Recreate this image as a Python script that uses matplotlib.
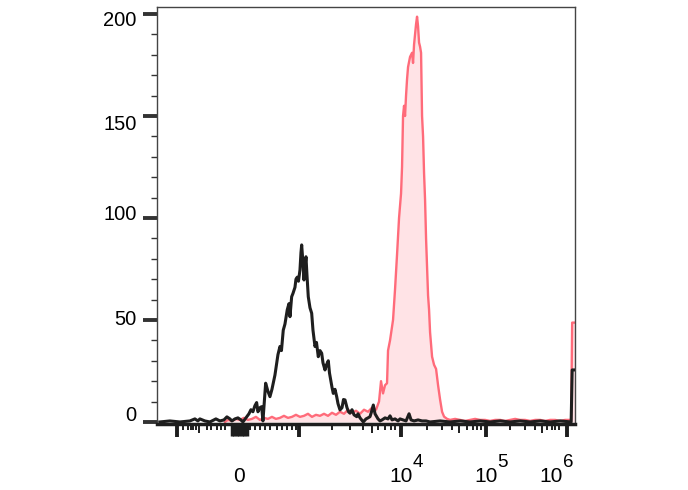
import numpy as np
import matplotlib
matplotlib.use("Agg")
import matplotlib.pyplot as plt
import matplotlib.transforms as mtransforms

plt.rcParams['font.family'] = ['Liberation Sans', 'DejaVu Sans']

# display channel (biexponential scale, 0..418) vs. cell count
stained_x = [68, 71, 75, 79, 83, 87, 91, 95, 99, 103, 107, 111, 115, 119, 123, 127, 131, 135,
             139, 143, 147, 151, 155, 159, 163, 167, 171, 175, 179, 183, 187, 191, 195, 199,
             203, 207, 211, 215, 219, 222, 224, 226, 228, 230, 231, 233, 236, 238, 240, 242,
             244, 245, 246, 247, 248, 249, 250, 251, 253, 255, 256, 257, 258, 259, 260, 261,
             262, 263, 264, 265, 266, 267, 268, 269, 270, 271, 272, 273, 274, 275, 277, 279,
             280, 281, 283, 285, 287, 290, 293, 298, 303, 308, 313, 318, 323, 328, 333, 338,
             343, 348, 353, 358, 363, 368, 373, 378, 383, 388, 393, 398, 403, 408, 414, 415, 418]
stained_y = [0, 1, 0.5, 1.5, 1, 2, 1, 1.5, 2.5, 1, 2, 1.5, 2.5, 1.5, 2, 3, 2, 2.5,
             3.5, 2.5, 3, 4, 2.5, 3.5, 3, 4, 3, 4.5, 3.5, 5, 4, 6, 4.5, 5.5,
             4, 6, 5, 7, 6, 10, 20, 14, 18, 19, 35, 40, 50, 65, 82, 100,
             112, 125, 150, 155, 150, 160, 168, 174, 179, 181, 176, 185, 190, 195, 198.7, 194,
             186, 184, 181, 150, 140, 122, 109, 90, 76, 62, 55, 44, 38, 32, 28, 26,
             22, 18, 11, 5, 2.6, 1.5, 1, 1.5, 1, 0.5, 1, 1.5, 1, 1, 0.5, 1,
             1, 0.5, 1, 1.5, 1, 1, 0.5, 1, 1, 0.5, 1, 1, 0.5, 1, 1, 48.7, 48.7]

control_x = [3, 13, 23, 33, 38, 41, 43, 48, 53, 59, 63, 67, 70, 73, 75, 78, 81, 84, 86, 89,
             92, 94, 96, 98, 99.7, 101, 103, 104.7, 106, 108.7, 111, 113, 115, 116.3, 118,
             119.7, 121, 123, 124.5, 126.3, 128, 130.3, 132, 133, 134.7, 136, 138, 139, 140.3,
             141.5, 143, 144, 144.7, 146, 147, 148, 149, 150, 151.3, 153, 154.7, 156, 158,
             159.5, 161.3, 163, 164.7, 166, 168, 169.5, 171.3, 172.5, 173.7, 175, 176.3, 178,
             179.7, 181, 183, 185, 186.5, 188, 190, 191.5, 193, 195, 197, 199.7, 201, 203,
             206.3, 209, 211, 213, 214.5, 216.3, 218, 219.7, 221, 223, 225, 228, 231, 233,
             235, 238, 241, 243, 246, 249, 252, 254, 257, 261, 265, 269, 273, 283, 293, 303,
             313, 323, 333, 343, 353, 363, 373, 383, 393, 403, 414, 415, 418]
control_y = [0, 0.5, 0, 0.5, 1.5, 0.5, 1.5, 0.5, 0, 1.5, 0.5, 1, 2.5, 1.5, 0.5, 1.5, 2, 1, 0, 2,
             4, 6, 5, 8, 9.5, 5, 7, 7.5, 0.5, 19, 15, 12.4, 16, 19, 23,
             28.8, 33, 37, 35, 45, 48, 55, 58, 51.6, 61.4, 63, 66, 70, 71,
             69, 74.5, 83, 86.8, 78, 69.6, 76, 81, 72, 61.4, 56, 53.3, 45, 37,
             39, 32, 35, 33.7, 29, 25.5, 28, 30, 24, 20.6, 17, 14, 16,
             12.4, 9, 5.9, 7, 11, 10.8, 7, 5, 4.3, 6, 3.5, 2.6, 4, 2,
             0, 1.5, 2, 2.6, 5, 8.3, 4, 2.6, 1.5, 0.5, 1, 2, 1.5, 3,
             1, 1.5, 0.5, 1.5, 1, 0.5, 4, 1, 0.5, 1, 0.5, 0.5, 0, 0.5, 0, 0.5,
             0, 0.5, 0, 0.5, 0, 0.5, 0, 0.5, 0, 0.5, 0, 25.5, 25.5]

# axis ticks on the display scale
major_ticks = [20.3, 142, 244, 329, 409.7]
zero_ticks = [75, 77.5, 80, 82.5, 85, 87.5, 90]
medium_ticks = [42.3, 215.3, 302.3, 384.7]
minor_ticks = [26.3, 30.7, 33.7, 36.3, 39, 49.7, 54, 59.7, 63.7, 68, 93, 98, 103, 108, 113,
               119.7, 124.7, 129.7, 134.7, 138.7, 175.3, 193, 206.3, 221.3, 228, 233.7, 238,
               269.7, 284.7, 294.7, 310.3, 315.7, 320.3, 323.7, 353, 368, 378, 389.7, 394.7,
               398, 402.3]
zero_label_pos = 82
decade_label_pos = [244, 329, 394]
decade_exponents = ['4', '5', '6']

y_major = [0, 50, 100, 150, 200]
y_label_shift = [-6, 0, -3, 8, 6.5]   # pixel nudges of the y labels, as in the source

fig = plt.figure(figsize=(6.88, 4.90), dpi=100)
ax = fig.add_axes([0.228, 0.1347, 0.608, 0.85])

ax.fill_between(stained_x, 0, stained_y, color='#ffe3e6', linewidth=0, zorder=1)
ax.plot(stained_x, stained_y, color='#ff6b7a', linewidth=1.7, zorder=2)
ax.plot(control_x, control_y, color='#1e1e1e', linewidth=2.2, zorder=3)

ax.set_xlim(0, 418)
ax.set_ylim(-1, 203.2)

# y axis
ax.set_yticks(y_major)
ax.set_yticklabels([])
ax.set_yticks(np.arange(10, 200, 10), minor=True)
ax.tick_params(axis='y', which='major', length=10, width=2.8, color='#333333')
ax.tick_params(axis='y', which='minor', length=4.5, width=1, color='#333333')
ytrans = mtransforms.blended_transform_factory(ax.transAxes, ax.transData)
for v, s in zip(y_major, y_label_shift):
    off = mtransforms.ScaledTranslation(-20 / 100, -s / 100, fig.dpi_scale_trans)
    ax.text(0, v, str(v), transform=ytrans + off, ha='right', va='center', fontsize=14.5)

# x axis: custom biexponential ticks
ax.set_xticks([])
xtrans = mtransforms.blended_transform_factory(ax.transData, ax.transAxes)
for positions, length, width in [(major_ticks, 13, 2.8), (zero_ticks, 12, 2.5),
                                  (medium_ticks, 9, 1.4), (minor_ticks, 6, 1.4)]:
    for p in positions:
        ax.plot([p, p], [0, -length / 416.5], transform=xtrans, color='#1e1e1e',
                linewidth=width, clip_on=False, solid_capstyle='butt', zorder=4)

base_y = -0.1385
ax.text(zero_label_pos, base_y, '0', transform=xtrans, ha='center', va='baseline', fontsize=15)
for p, e in zip(decade_label_pos, decade_exponents):
    ax.text(p, base_y, '10', transform=xtrans, ha='center', va='baseline', fontsize=15)
    off = mtransforms.ScaledTranslation(11.5 / 100, 15 / 100, fig.dpi_scale_trans)
    ax.text(p, base_y, e, transform=xtrans + off, ha='left', va='baseline', fontsize=13.5)

for side in ['top', 'right', 'left']:
    ax.spines[side].set_linewidth(1.0)
    ax.spines[side].set_color('#444444')
ax.spines['bottom'].set_linewidth(2.5)
ax.spines['bottom'].set_color('#1e1e1e')

fig.savefig('out.png', dpi=100)
